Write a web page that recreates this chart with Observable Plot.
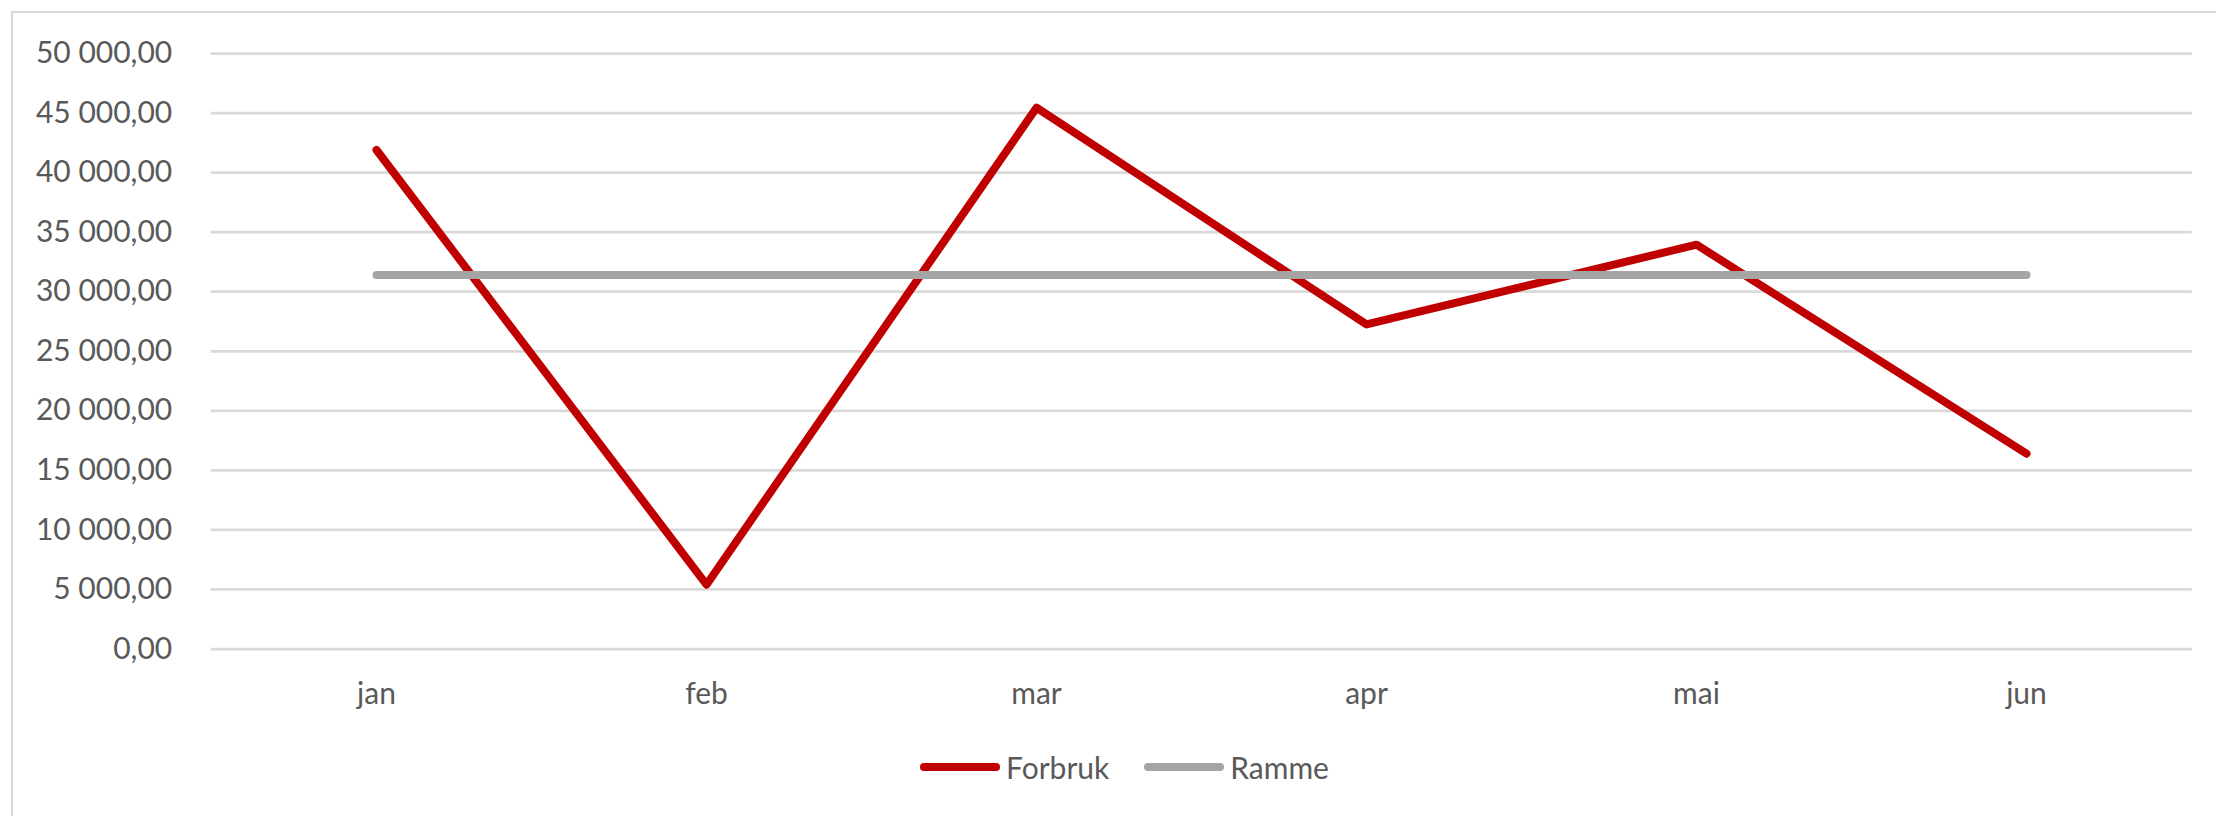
<!DOCTYPE html>
<html>
<head>
<meta charset="utf-8">
<script src="https://cdn.jsdelivr.net/npm/d3@7"></script>
<script src="https://cdn.jsdelivr.net/npm/@observablehq/plot@0.6"></script>
<style>
  html, body { margin: 0; padding: 0; background: #ffffff; }
  body { position: relative; width: 2216px; height: 816px; overflow: hidden; font-family: Lato, "Open Sans", sans-serif; }
  #frame { position: absolute; left: 10.5px; top: 10.5px; width: 2300px; height: 900px;
           border-left: 2.75px solid #d9d9d9; border-top: 2.75px solid #d9d9d9; box-sizing: border-box; }
  #chart { position: relative; }
  #chart svg { display: block; }
  #legend { position: relative; display: flex; align-items: center; margin-left: 920px; margin-top: 22px; height: 30px;
            font-family: Lato, sans-serif; font-size: 30px; color: #595959; }
  .item { display: flex; align-items: center; margin-right: 35px; }
  .sw { width: 80px; height: 8px; border-radius: 4px; margin-right: 6px; }
</style>
</head>
<body>
<div id="frame"></div>
<div id="chart"></div>
<div id="legend"></div>
<script>
const months = ["jan", "feb", "mar", "apr", "mai", "jun"];
const forbruk = [41900, 5400, 45450, 27250, 33950, 16400];
const ramme = [31400, 31400, 31400, 31400, 31400, 31400];
const yTicks = [0, 5000, 10000, 15000, 20000, 25000, 30000, 35000, 40000, 45000, 50000];
const seriesNames = ["Forbruk", "Ramme"];
const seriesColors = ["#c00000", "#a5a5a5"];

const nb = d3.formatLocale({decimal: ",", thousands: "\u00a0", grouping: [3], currency: ["", " kr"]});
const fmt = nb.format(",.2f");

const rows = [];
months.forEach((m, i) => rows.push({month: m, value: forbruk[i], series: seriesNames[0]}));
months.forEach((m, i) => rows.push({month: m, value: ramme[i], series: seriesNames[1]}));

const chart = Plot.plot({
  width: 2216,
  height: 730,
  marginLeft: 210.7,
  marginRight: 24.3,
  marginTop: 53,
  marginBottom: 81.5,
  style: {fontFamily: "Lato, sans-serif", fontSize: "30px", color: "#595959", background: "transparent"},
  x: {type: "point", domain: months, padding: 0.5, label: null},
  y: {domain: [0, 50000], label: null},
  color: {domain: seriesNames, range: seriesColors},
  marks: [
    Plot.gridY(yTicks, {stroke: "#d9d9d9", strokeOpacity: 1, strokeWidth: 2.75}),
    Plot.axisY(yTicks, {tickFormat: fmt, tickSize: 0, tickPadding: 39, label: null, fill: "#595959"}),
    Plot.axisX({tickSize: 0, tickPadding: 34, label: null, fill: "#595959"}),
    Plot.line(rows.filter(d => d.series === "Forbruk"), {x: "month", y: "value", stroke: "series", strokeWidth: 8, strokeLinecap: "round", strokeLinejoin: "round"}),
    Plot.line(rows.filter(d => d.series === "Ramme"), {x: "month", y: "value", stroke: "series", strokeWidth: 8, strokeLinecap: "round", strokeLinejoin: "round"})
  ]
});
document.getElementById("chart").appendChild(chart);

const legend = document.getElementById("legend");
seriesNames.forEach((name, i) => {
  const item = document.createElement("div");
  item.className = "item";
  const sw = document.createElement("div");
  sw.className = "sw";
  sw.style.background = seriesColors[i];
  const label = document.createElement("span");
  label.textContent = name;
  item.appendChild(sw);
  item.appendChild(label);
  legend.appendChild(item);
});
</script>
</body>
</html>
